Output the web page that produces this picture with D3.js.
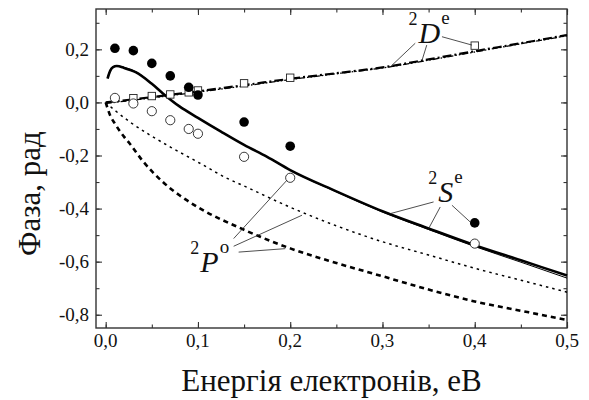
<!DOCTYPE html>
<html>
<head>
<meta charset="utf-8">
<script src="https://cdn.jsdelivr.net/npm/d3@7"></script>
<style>
  body { margin: 0; background: #fff; }
</style>
</head>
<body>
<svg id="chart"></svg>
<script>
// experimental points
let expX = [0.01, 0.03, 0.05, 0.07, 0.09, 0.1, 0.15, 0.2, 0.4]
let sFilled = [0.204, 0.195, 0.147, 0.10, 0.057, 0.028, -0.074, -0.165, -0.454]
let pOpen = [0.017, -0.004, -0.033, -0.067, -0.10, -0.118, -0.205, -0.284, -0.532]
let dSquareX = [0.03, 0.05, 0.07, 0.09, 0.1, 0.15, 0.2, 0.4]
let dSquare = [0.016, 0.024, 0.03, 0.038, 0.045, 0.072, 0.093, 0.214]

// theory curves
let sCurveX = [0.002, 0.005, 0.008, 0.012, 0.02, 0.033, 0.05, 0.062, 0.08, 0.1, 0.125, 0.15, 0.175, 0.2, 0.25, 0.3, 0.35, 0.4, 0.45, 0.5]
let sCurve1 = [0.09, 0.12, 0.133, 0.137, 0.13, 0.113, 0.07, 0.034, -0.015, -0.058, -0.11, -0.16, -0.205, -0.255, -0.335, -0.41, -0.475, -0.538, -0.595, -0.652]
let sCurve2 = [0.095, 0.123, 0.135, 0.138, 0.132, 0.115, 0.072, 0.035, -0.014, -0.058, -0.11, -0.16, -0.206, -0.256, -0.337, -0.413, -0.479, -0.543, -0.602, -0.662]

let pCurveX = [0, 0.01, 0.026, 0.048, 0.071, 0.1, 0.131, 0.15, 0.2, 0.25, 0.3, 0.35, 0.4, 0.45, 0.5]
let pDotted = [0, -0.03, -0.073, -0.123, -0.17, -0.225, -0.285, -0.315, -0.395, -0.465, -0.525, -0.575, -0.625, -0.67, -0.715]
let pDashX = [0, 0.005, 0.01, 0.02, 0.026, 0.04, 0.062, 0.08, 0.1, 0.15, 0.2, 0.25, 0.3, 0.35, 0.4, 0.45, 0.5]
let pDashed = [0, -0.05, -0.08, -0.13, -0.155, -0.22, -0.30, -0.35, -0.395, -0.48, -0.55, -0.605, -0.655, -0.705, -0.75, -0.785, -0.82]

let dCurveX = [0, 0.05, 0.1, 0.15, 0.2, 0.25, 0.3, 0.35, 0.4, 0.45, 0.5]
let dCurve1 = [0, 0.02, 0.042, 0.065, 0.089, 0.11, 0.132, 0.162, 0.193, 0.223, 0.254]
let dCurve2 = [-0.004, 0.017, 0.039, 0.062, 0.086, 0.108, 0.13, 0.159, 0.19, 0.221, 0.251]

let xTicks = [0, 0.1, 0.2, 0.3, 0.4, 0.5]
let yTicks = [-0.8, -0.6, -0.4, -0.2, 0, 0.2]

// labels: [sup-left, letter, sup-right, x, y] in data units
let labels = [
  ['2', 'D', 'e', 0.339, 0.223],
  ['2', 'S', 'e', 0.3605, -0.376],
  ['2', 'P', 'o', 0.1026, -0.639]
]
// leader lines [x1, y1, x2, y2] in data units
let leaders = [
  [0.3355, 0.223, 0.3085, 0.134],
  [0.348, 0.216, 0.343, 0.16],
  [0.3645, 0.2475, 0.397, 0.216],
  [0.3554, -0.375, 0.3085, -0.419],
  [0.3626, -0.394, 0.35, -0.4755],
  [0.3753, -0.3875, 0.3951, -0.4506],
  [0.1387, -0.513, 0.1965, -0.293],
  [0.1387, -0.542, 0.2128, -0.425],
  [0.1441, -0.564, 0.1947, -0.551]
]

let width = 589
let height = 400
let mLeft = 96, mRight = 567, mTop = 9, mBottom = 328
let serif = 'Liberation Serif, DejaVu Serif, serif'

let svg = d3.select('#chart').attr('width', width).attr('height', height)

let xScale = d3.scaleLinear().domain([-0.0105, 0.5]).range([mLeft, mRight])
let yScale = d3.scaleLinear().domain([-0.85, 0.352]).range([mBottom, mTop])

let fmt = d => d3.format('.1f')(d).replace('.', ',').replace('−', '-')

let addText = (g, size) => g.append('text')
    .attr('style', 'font-family: ' + serif + '; font-size: ' + size + 'px')
    .attr('fill', '#111')

// axes, ticks pointing inward on all four sides
let xMinor = d3.range(0, 0.501, 0.05)
let yMinor = d3.range(-0.8, 0.31, 0.1)

let axisStyle = g => {
  g.select('.domain').remove()
  g.selectAll('line').attr('stroke', '#333').attr('stroke-width', 1.1)
}

let addTicks = (axisFn, pos, isX) => {
  [[isX ? xMinor : yMinor, 3.5], [isX ? xTicks : yTicks, 6]].forEach(t => {
    svg.append('g')
       .attr('transform', isX ? 'translate(0,' + pos + ')' : 'translate(' + pos + ',0)')
       .call(axisFn.tickValues(t[0]).tickSize(t[1]).tickFormat(''))
       .call(axisStyle)
  })
}
addTicks(d3.axisTop(xScale), mBottom, true)
addTicks(d3.axisBottom(xScale), mTop, true)
addTicks(d3.axisRight(yScale), mLeft, false)
addTicks(d3.axisLeft(yScale), mRight, false)

// tick labels
xTicks.forEach(d => {
  addText(svg, 19).attr('x', xScale(d)).attr('y', mBottom + 19)
     .attr('text-anchor', 'middle').text(fmt(d))
})
yTicks.forEach(d => {
  addText(svg, 19).attr('x', mLeft - 7).attr('y', yScale(d) + 6.5)
     .attr('text-anchor', 'end').text(fmt(d))
})

// frame
svg.append('rect')
   .attr('x', mLeft).attr('y', mTop).attr('width', mRight - mLeft).attr('height', mBottom - mTop)
   .attr('fill', 'none').attr('stroke', '#333').attr('stroke-width', 1.4)

// axis titles
addText(svg, 31)
   .attr('transform', 'translate(40,' + ((mTop + mBottom) / 2 + 25) + ') rotate(-90)')
   .attr('text-anchor', 'middle')
   .text('Фаза, рад')
addText(svg, 31)
   .attr('x', (mLeft + mRight) / 2).attr('y', 391)
   .attr('text-anchor', 'middle')
   .text('Енергія електронів, еВ')

let line = d3.line().x(d => xScale(d[0])).y(d => yScale(d[1])).curve(d3.curveMonotoneX)
let zipped = (xs, ys) => xs.map((x, i) => [x, ys[i]])

let plot = svg.append('g')

let drawCurve = (xs, ys, w, dash) => {
  plot.append('path')
      .attr('d', line(zipped(xs, ys)))
      .attr('fill', 'none')
      .attr('stroke', '#000')
      .attr('stroke-width', w)
      .attr('stroke-dasharray', dash)
}

drawCurve(dCurveX, dCurve1, 2.2, '9,3,2,3')
drawCurve(dCurveX, dCurve2, 1.3, '6,2,1.5,2,1.5,2')
drawCurve(pCurveX, pDotted, 1.5, '2.5,4')
drawCurve(pDashX, pDashed, 2.6, '5,4')
drawCurve(sCurveX, sCurve2, 1, null)
drawCurve(sCurveX, sCurve1, 2.6, null)

// markers
plot.selectAll('.sq').data(zipped(dSquareX, dSquare)).enter().append('rect')
    .attr('x', d => xScale(d[0]) - 3.7).attr('y', d => yScale(d[1]) - 3.7)
    .attr('width', 7.4).attr('height', 7.4)
    .attr('fill', '#fff').attr('stroke', '#222').attr('stroke-width', 0.9)
plot.selectAll('.oc').data(zipped(expX, pOpen)).enter().append('circle')
    .attr('cx', d => xScale(d[0])).attr('cy', d => yScale(d[1])).attr('r', 4.6)
    .attr('fill', '#fff').attr('stroke', '#222').attr('stroke-width', 0.9)
plot.selectAll('.fc').data(zipped(expX, sFilled)).enter().append('circle')
    .attr('cx', d => xScale(d[0])).attr('cy', d => yScale(d[1])).attr('r', 4.8)
    .attr('fill', '#000')

// leader lines
svg.append('g').selectAll('line').data(leaders).enter().append('line')
   .attr('x1', d => xScale(d[0])).attr('y1', d => yScale(d[1]))
   .attr('x2', d => xScale(d[2])).attr('y2', d => yScale(d[3]))
   .attr('stroke', '#222').attr('stroke-width', 0.8)

// term labels
labels.forEach(l => {
  let x = xScale(l[3]), y = yScale(l[4])
  addText(svg, 18).attr('x', x - 1).attr('y', y - 18)
     .attr('text-anchor', 'end').text(l[0])
  let t = addText(svg, 30).attr('x', x).attr('y', y)
     .style('font-style', 'italic').text(l[1])
  let w = t.node().getComputedTextLength()
  addText(svg, 19).attr('x', x + w + 1).attr('y', y - 19)
     .text(l[2])
})
</script>
</body>
</html>
